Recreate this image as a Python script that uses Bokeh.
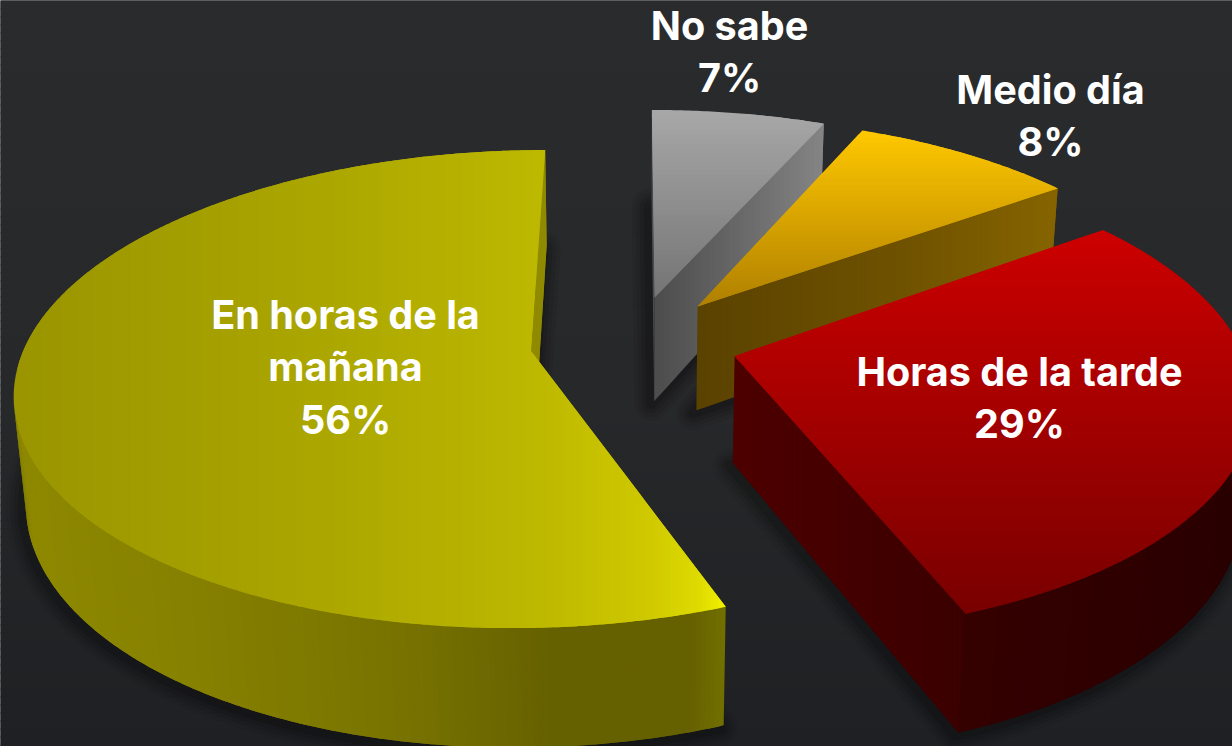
import math
from bokeh.embed import file_html
from bokeh.models import Range1d, ColumnDataSource
from bokeh.plotting import figure
from bokeh.resources import INLINE
from bokeh.core.properties import value

# ---- data (clockwise from the top of the pie) ----
categories = ["No sabe", "Medio día", "Horas de la tarde", "En horas de la mañana"]
shares = [6.55, 8.45, 29.2, 55.8]
label_lines = [["No sabe"], ["Medio día"], ["Horas de la tarde"], ["En horas de la", "mañana"]]

# ---- label placement ----
label_cx = [729, 1050, 1019, 345]
label_top = [25, 89, 371, 314]
line_gap = 52.6
font_px = "39.6px"
font_name = "Inter"

# ---- camera ----
W, H = 1232, 746
CX, CY = 633.5, 342.0
FOCAL, DIST = 2848.0, 5.64
SIN_T, COS_T = 0.89, 0.456
DEPTH = 0.24
EXPLODE = 0.206
START = 0.0


def project(u, v, z=0.0):
    d = DIST + v * SIN_T - z * COS_T
    return CX + FOCAL * u / d, CY - FOCAL * (v * COS_T + z * SIN_T) / d


def hex2rgb(h):
    return tuple(int(h[i:i + 2], 16) for i in (1, 3, 5))


def ramp(stops, t):
    if t <= stops[0][0]:
        return stops[0][1]
    for (t0, c0), (t1, c1) in zip(stops, stops[1:]):
        if t <= t1:
            k = (t - t0) / (t1 - t0)
            a, b = hex2rgb(c0), hex2rgb(c1)
            return "#%02x%02x%02x" % tuple(round(a[i] + (b[i] - a[i]) * k) for i in range(3))
    return stops[-1][1]


def clip_half(poly, axis, limit, keep_above):
    out = []
    n = len(poly)
    for i in range(n):
        p, q = poly[i], poly[(i + 1) % n]
        pin = p[axis] >= limit if keep_above else p[axis] <= limit
        qin = q[axis] >= limit if keep_above else q[axis] <= limit
        if pin:
            out.append(p)
        if pin != qin:
            k = (limit - p[axis]) / (q[axis] - p[axis])
            out.append((p[0] + (q[0] - p[0]) * k, p[1] + (q[1] - p[1]) * k))
    return out


def area(poly):
    return sum(poly[i][0] * poly[(i + 1) % len(poly)][1] - poly[(i + 1) % len(poly)][0] * poly[i][1]
               for i in range(len(poly)))


xs_all, ys_all, col_all = [], [], []


def emit(poly, color):
    if len(poly) >= 3:
        xs_all.append([q[0] for q in poly])
        ys_all.append([q[1] for q in poly])
        col_all.append(color)


def banded(poly, axis, stops, step):
    # each band reaches one step into the next and is painted over by it: no seams
    lo = min(q[axis] for q in poly)
    hi = max(q[axis] for q in poly)
    t = lo
    while t < hi:
        part = clip_half(clip_half(poly, axis, t, True), axis, t + 2 * step, False)
        emit(part, ramp(stops, t + step / 2))
        t += step


styles = [
    dict(axis=1, top=[(108, "#a8a8a8"), (297, "#747474")],
         radial=[(654, "#4c4c4c"), (825, "#858585")], arc=[(654, "#4c4c4c"), (825, "#858585")]),
    dict(axis=1, top=[(130, "#ffc800"), (305, "#b08000")],
         radial=[(698, "#5a4200"), (900, "#6f5200"), (1060, "#866400")],
         arc=[(698, "#5a4200"), (1060, "#866400")]),
    dict(axis=1, top=[(233, "#cc0000"), (614, "#780000")],
         radial=[(733, "#4d0000"), (967, "#3a0000")], arc=[(960, "#350000"), (1232, "#2a0000")]),
    dict(axis=0, top=[(15, "#9a9500"), (300, "#aaa500"), (530, "#bcb700"), (650, "#cfc900"),
                      (700, "#dfdb00"), (724, "#f2f000")],
         radial=[(530, "#8f8a00"), (550, "#8f8a00")],
         arc=[(15, "#8e8900"), (200, "#858000"), (400, "#787300"), (550, "#666100"),
              (690, "#666100"), (724, "#716f00")]),
]

p = figure(width=W, height=H, output_backend="svg", toolbar_location=None,
           x_range=Range1d(0, W), y_range=Range1d(H, 0),
           x_axis_location=None, y_axis_location=None, min_border=0,
           background_fill_color="#262729", border_fill_color="#2a2b2d", outline_line_color=None,
           styles={"position": "absolute", "left": "0", "top": "0"})
p.grid.visible = False

# background
bg_stops = [(0, "#2a2b2d"), (400, "#27282a"), (746, "#1f2023")]
for yy in range(0, H, 8):
    p.quad(left=-5, right=W + 5, top=yy - 5 if yy == 0 else yy, bottom=yy + 9,
           fill_color=ramp(bg_stops, yy), line_color=None)

angle = START
for share, st in zip(shares, styles):
    a0 = angle
    a1 = angle + share * 3.6
    angle = a1
    mid = math.radians((a0 + a1) / 2)
    ou, ov = EXPLODE * math.sin(mid), EXPLODE * math.cos(mid)
    steps = max(4, int(2 * (a1 - a0)))
    degs = [a0 + (a1 - a0) * i / steps for i in range(steps + 1)]
    rim = [(ou + math.sin(math.radians(a)), ov + math.cos(math.radians(a))) for a in degs]
    top_poly = [project(ou, ov)] + [project(*q) for q in rim]
    bot_poly = [project(ou, ov, -DEPTH)] + [project(q[0], q[1], -DEPTH) for q in rim]

    # soft contact shadow under the slice
    for width, alpha in [(34, 0.05), (26, 0.07), (18, 0.09), (10, 0.12)]:
        p.patch([q[0] - 3 for q in bot_poly], [q[1] + 3 for q in bot_poly], fill_color=None,
                line_color="black", line_alpha=alpha, line_width=width, line_join="round")

    n = len(rim)
    xs_all, ys_all, col_all = [], [], []
    # radial walls
    for (i, j) in ((0, 1), (n, 0)):
        wall = [top_poly[i], top_poly[j], bot_poly[j], bot_poly[i]]
        if area(wall) < 0:
            banded(wall, 0, st["radial"], 5)
    # outer wall
    for i in range(1, n):
        wall = [top_poly[i], top_poly[i + 1], bot_poly[i + 1], bot_poly[i]]
        if area(wall) < 0:
            k = min(i + 2, n)
            wide = [top_poly[i]] + top_poly[i + 1:k + 1] + bot_poly[i + 1:k + 1][::-1] + [bot_poly[i]]
            emit(wide, ramp(st["arc"], (wall[0][0] + wall[1][0]) / 2))
    # top face
    banded(top_poly, st["axis"], st["top"], 4)
    src = ColumnDataSource(dict(xs=xs_all, ys=ys_all, c=col_all))
    p.patches("xs", "ys", source=src, fill_color="c", line_color=None)

# labels
for name_lines, share, lx, ly in zip(label_lines, shares, label_cx, label_top):
    lines = name_lines + ["%d%%" % math.floor(share + 0.5)]
    ys = [ly + i * line_gap for i in range(len(lines))]
    p.text([lx] * len(lines), ys, text=lines, text_color="white", text_align="center",
           text_baseline="middle", text_font=value(font_name), text_font_style="bold",
           text_font_size=font_px)

open("out.html", "w").write(file_html(p, INLINE))
